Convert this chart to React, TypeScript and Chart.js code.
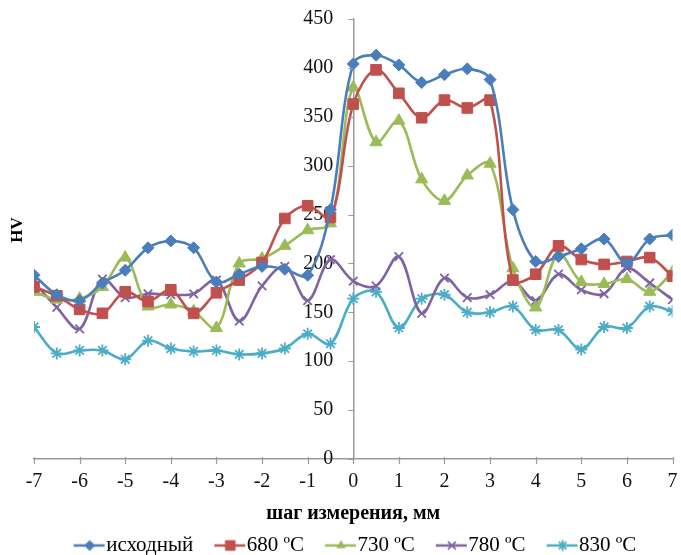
import React, { useEffect, useRef } from 'react';
import { Chart, registerables } from 'chart.js';

Chart.register(...registerables);

const positions = [-7, -6.5, -6, -5.5, -5, -4.5, -4, -3.5, -3, -2.5, -2, -1.5, -1, -0.5, 0, 0.5, 1, 1.5, 2, 2.5, 3, 3.5, 4, 4.5, 5, 5.5, 6, 6.5, 7];

const initialHV = [188, 168, 162, 180, 193, 216, 223, 216, 181, 189, 197, 194, 188, 255, 404, 413, 403, 385, 393, 399, 388, 255, 202, 207, 215, 225, 200, 225, 229];
const hv680 = [176, 167, 153, 149, 171, 161, 173, 149, 170, 183, 201, 246, 259, 247, 363, 398, 374, 349, 367, 359, 367, 183, 189, 218, 204, 199, 202, 206, 187];
const hv730 = [171, 163, 164, 176, 206, 156, 158, 151, 134, 200, 205, 218, 234, 241, 380, 324, 346, 286, 264, 290, 302, 195, 155, 210, 181, 179, 184, 171, 191];
const hv780 = [181, 155, 133, 184, 165, 169, 168, 169, 183, 141, 177, 197, 162, 204, 182, 177, 207, 149, 185, 165, 168, 182, 162, 189, 173, 169, 195, 180, 163];
const hv830 = [135, 108, 111, 111, 102, 121, 113, 110, 111, 107, 108, 113, 128, 118, 164, 171, 134, 164, 168, 150, 150, 156, 132, 132, 112, 135, 134, 156, 151];

const seriesLabels = ['исходный', '680 ºC', '730 ºC', '780 ºC', '830 ºC'];
const seriesValues = [initialHV, hv680, hv730, hv780, hv830];
const seriesColors = ['#4A7EBB', '#C0504D', '#9BBB59', '#8064A2', '#4BACC6'];
const seriesMarkers = ['rectRot', 'rect', 'triangle', 'crossRot', 'star'];
const markerRadius = [6, 7.5, 7, 6, 6];

const xTitle = 'шаг измерения, мм';
const yTitle = 'HV';

const FONT = '"Liberation Serif", "Times New Roman", serif';
const LEGEND_FONT = 21;
const LEGEND_BOX = 22;
const ICON_W = 32;
const AXIS_COLOR = '#9a9a9a';

function drawMarker(g: CanvasRenderingContext2D, style: string, x: number, y: number, r: number, color: string) {
  g.fillStyle = color;
  g.strokeStyle = color;
  g.beginPath();
  if (style === 'rectRot') {
    g.moveTo(x, y - r); g.lineTo(x + r, y); g.lineTo(x, y + r); g.lineTo(x - r, y); g.closePath(); g.fill();
  } else if (style === 'rect') {
    const s = r * Math.SQRT1_2;
    g.rect(x - s, y - s, 2 * s, 2 * s); g.fill();
  } else if (style === 'triangle') {
    g.moveTo(x, y - r); g.lineTo(x + r * 0.866, y + r * 0.5); g.lineTo(x - r * 0.866, y + r * 0.5); g.closePath(); g.fill();
  } else if (style === 'crossRot') {
    g.lineWidth = 1.8;
    const s = r * Math.SQRT1_2;
    g.moveTo(x - s, y - s); g.lineTo(x + s, y + s); g.moveTo(x + s, y - s); g.lineTo(x - s, y + s); g.stroke();
  } else if (style === 'star') {
    g.lineWidth = 1.8;
    const s = r * Math.SQRT1_2;
    g.moveTo(x - s, y - s); g.lineTo(x + s, y + s); g.moveTo(x + s, y - s); g.lineTo(x - s, y + s);
    g.moveTo(x, y - r); g.lineTo(x, y + r); g.moveTo(x - r, y); g.lineTo(x + r, y); g.stroke();
  }
}

// Icon canvas is centred by Chart.js at (x + LEGEND_BOX/2); draw the line+marker so it
// spans from x to x + ICON_W, right up to the label text.
function legendIcon(color: string, style: string) {
  const c = document.createElement('canvas');
  const cw = 2 * (ICON_W + 4);
  c.width = cw; c.height = 16;
  const g = c.getContext('2d')!;
  const start = cw / 2 - LEGEND_BOX / 2;
  g.strokeStyle = color; g.lineWidth = 2.5;
  g.beginPath(); g.moveTo(start, 8); g.lineTo(start + ICON_W - 1, 8); g.stroke();
  drawMarker(g, style, start + ICON_W / 2, 8, style === 'rect' ? 7.5 : 5.5, color);
  return c;
}

// Short tick marks (5px) drawn on the axes; the library's own tick marks are kept
// transparent so that their length can be used as label offset.
const tickMarksPlugin = {
  id: 'tickMarks',
  afterDraw(chart: any) {
    const { ctx, chartArea, scales } = chart;
    const xs = scales.x;
    const ys = scales.y;
    const axisX = xs.getPixelForValue(0);
    ctx.save();
    ctx.strokeStyle = AXIS_COLOR;
    ctx.lineWidth = 1.2;
    ctx.beginPath();
    xs.ticks.forEach((t: any) => {
      const px = Math.round(xs.getPixelForValue(t.value)) + 0.5;
      ctx.moveTo(px, chartArea.bottom - 2);
      ctx.lineTo(px, chartArea.bottom + 5);
    });
    ys.ticks.forEach((t: any) => {
      const py = Math.round(ys.getPixelForValue(t.value)) + 0.5;
      ctx.moveTo(axisX - 5, py);
      ctx.lineTo(axisX, py);
    });
    ctx.stroke();
    ctx.restore();
  },
};

const hvTitlePlugin = {
  id: 'hvTitle',
  afterDraw(chart: any) {
    const { ctx, chartArea } = chart;
    ctx.save();
    ctx.translate(chartArea.left - 16, (chartArea.top + chartArea.bottom) / 2 - 9);
    ctx.rotate(-Math.PI / 2);
    ctx.font = `bold 17px ${FONT}`;
    ctx.fillStyle = '#000';
    ctx.textAlign = 'center';
    ctx.textBaseline = 'middle';
    ctx.fillText(yTitle, 0, 0);
    ctx.restore();
  },
};

export default function App() {
  const ref = useRef<HTMLCanvasElement | null>(null);

  useEffect(() => {
    if (!ref.current) return;
    const icons = seriesColors.map((c, i) => legendIcon(c, seriesMarkers[i]));
    const chart = new Chart(ref.current, {
      type: 'line',
      data: {
        datasets: seriesLabels.map((label, i) => ({
          label,
          data: positions.map((x, j) => ({ x, y: seriesValues[i][j] })),
          borderColor: seriesColors[i],
          backgroundColor: seriesColors[i],
          pointBackgroundColor: seriesColors[i],
          pointBorderColor: seriesColors[i],
          pointBorderWidth: seriesMarkers[i] === 'crossRot' || seriesMarkers[i] === 'star' ? 1.8 : 1,
          pointStyle: seriesMarkers[i] as any,
          pointRadius: markerRadius[i],
          borderWidth: 2.6,
          tension: 0.35,
          fill: false,
        })),
      },
      options: {
        animation: false,
        responsive: true,
        maintainAspectRatio: false,
        layout: { padding: { left: 34, right: 5, top: 19, bottom: -11 } },
        scales: {
          x: {
            type: 'linear',
            min: -7,
            max: 7,
            position: 'bottom',
            ticks: { stepSize: 1, color: '#111', font: { family: FONT, size: 20 }, padding: 0 },
            grid: { display: true, drawOnChartArea: false, drawTicks: true, tickLength: 11, tickColor: 'rgba(0,0,0,0)', color: AXIS_COLOR, lineWidth: 1.2 },
            border: { display: true, color: AXIS_COLOR, width: 1.5 },
            title: { display: true, text: xTitle, color: '#000', font: { family: FONT, size: 20, weight: 'bold' }, padding: { top: 8, bottom: -12 } },
          },
          y: {
            type: 'linear',
            min: 0,
            max: 450,
            position: 'center',
            ticks: { stepSize: 50, color: '#111', font: { family: FONT, size: 20 }, padding: 3 },
            grid: { display: true, drawOnChartArea: false, drawTicks: true, tickLength: 17, tickColor: 'rgba(0,0,0,0)', color: AXIS_COLOR, lineWidth: 1.2 },
            border: { display: true, color: AXIS_COLOR, width: 1.5 },
          },
        },
        plugins: {
          legend: {
            position: 'bottom',
            labels: {
              usePointStyle: true,
              pointStyleWidth: LEGEND_BOX,
              padding: 21,
              color: '#111',
              font: { family: FONT, size: LEGEND_FONT },
              generateLabels: () =>
                seriesLabels.map((text, i) => ({
                  text,
                  pointStyle: icons[i] as any,
                  fillStyle: seriesColors[i],
                  strokeStyle: seriesColors[i],
                  lineWidth: 0,
                  hidden: false,
                  datasetIndex: i,
                })),
            },
          },
          tooltip: { enabled: false },
        },
      },
      plugins: [tickMarksPlugin, hvTitlePlugin],
    });
    return () => chart.destroy();
  }, []);

  return (
    <div style={{ position: 'fixed', left: 0, top: 0, width: 681, height: 555, background: '#fff' }}>
      <canvas ref={ref} />
    </div>
  );
}
